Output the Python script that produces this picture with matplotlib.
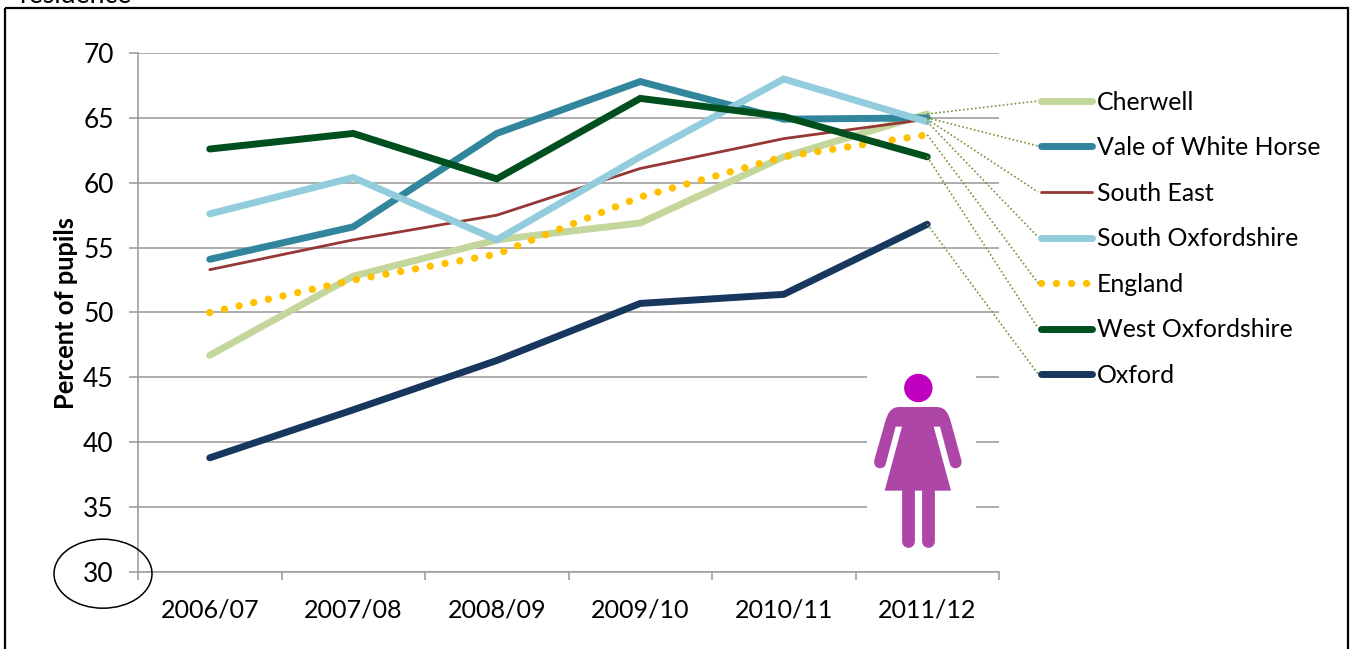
import matplotlib
matplotlib.use("Agg")
import matplotlib.pyplot as plt
from matplotlib.patches import Ellipse, Circle, PathPatch, Rectangle
from matplotlib.path import Path

plt.rcParams['font.family'] = ['Lato', 'DejaVu Sans']

years = ['2006/07', '2007/08', '2008/09', '2009/10', '2010/11', '2011/12']
yticks = [30, 35, 40, 45, 50, 55, 60, 65, 70]
names = ['Cherwell', 'Vale of White Horse', 'South East', 'South Oxfordshire',
         'England', 'West Oxfordshire', 'Oxford']
cherwell = [46.7, 52.8, 55.6, 56.9, 62.0, 65.3]
vale = [54.1, 56.6, 63.8, 67.8, 64.9, 65.0]
south_east = [53.3, 55.6, 57.5, 61.1, 63.4, 64.9]
south_ox = [57.6, 60.4, 55.6, 62.0, 68.0, 64.7]
england = [50.0, 52.5, 54.5, 58.9, 62.0, 63.7]
west_ox = [62.6, 63.8, 60.3, 66.5, 65.1, 62.0]
oxford = [38.8, 42.5, 46.3, 50.7, 51.4, 56.8]
series = [cherwell, vale, south_east, south_ox, england, west_ox, oxford]
colors = ['#C3D69B', '#31859C', '#953735', '#93CDDD', '#FFC000', '#00501F', '#17375E']
widths = [5.0, 5.0, 2.0, 5.0, 5.3, 5.0, 5.0]

W, H = 1352, 649
fig = plt.figure(figsize=(W / 100, H / 100), dpi=100)
GRID = '#A0A0A0'
ax = fig.add_axes([138 / W, 1 - 572 / H, (999 - 138) / W, (572 - 53) / H])
ax.set_xlim(-0.5, 5.5)
ax.set_ylim(30, 70)
for s in ['top', 'right']:
    ax.spines[s].set_visible(False)
for s in ['left', 'bottom']:
    ax.spines[s].set_color(GRID)
    ax.spines[s].set_linewidth(1.2)
ax.set_yticks(yticks)
ax.set_xticks(range(6))
ax.set_xticklabels(years)
ax.set_xticks([i - 0.5 for i in range(7)], minor=True)
ax.tick_params(axis='x', which='major', length=0, pad=19, labelsize=18.1)
ax.tick_params(axis='x', which='minor', length=6, width=1.2, color=GRID)
ax.tick_params(axis='y', length=6.5, width=1.2, color=GRID, pad=11, labelsize=19)
ax.grid(axis='y', color=GRID, linewidth=1.2)
ax.set_axisbelow(True)
ax.set_ylabel('Percent of pupils', fontsize=18.4, fontweight='bold', labelpad=4, y=0.499)

lines = []
for name, vals, c, lw in zip(names, series, colors, widths):
    if name == 'England':
        ln, = ax.plot(range(6), vals, color=c, lw=lw, label=name,
                      linestyle=(0, (0.001, 2.04)), dash_capstyle='round')
    else:
        ln, = ax.plot(range(6), vals, color=c, lw=lw, label=name,
                      solid_capstyle='round', solid_joinstyle='miter')
    lines.append(ln)

leg = ax.legend(handles=lines, loc='upper left', bbox_to_anchor=(1041 / W, 1 - 90.5 / H),
                bbox_transform=fig.transFigure, frameon=False, fontsize=17.9,
                handlelength=2.05, handletextpad=0.2, labelspacing=0.908,
                borderaxespad=0, borderpad=0)

# Overlay in image pixel coordinates for annotations
ov = fig.add_axes([0, 0, 1, 1], zorder=5)
ov.set_xlim(0, W)
ov.set_ylim(H, 0)
ov.axis('off')
ov.patch.set_alpha(0)

ov.add_patch(Rectangle((5, 8), 1343, 660, fill=False, ec='black', lw=1.6))
ov.text(19, 3, 'residence', fontsize=19.2, va='baseline', ha='left', clip_on=False)
ov.add_patch(Ellipse((103, 573.7), 98, 69, fill=False, ec='black', lw=1.1))

# Dotted leader lines
legend_y = [101, 146, 192, 237, 283, 328, 374]
for vals, ly in zip(series, legend_y):
    px = ax.transData.transform((5, vals[5]))
    ov.plot([px[0], 1038], [H - px[1], ly], color='#77933C', lw=1.2,
            linestyle=(0, (1, 1.4)))

# Female icon
ov.add_patch(Rectangle((867, 370), 109, 185, fc='white', ec='none', zorder=1))
BODY = '#AE46A8'
z = lambda x, y: (840 + x / 3, 360 + y / 3)
ov.add_patch(Circle(z(235, 84), 14.2, fc='#C000C0', ec='none', zorder=2))
M, L, C = Path.MOVETO, Path.LINETO, Path.CURVE4
outline = [
    ((178, 141), M), ((290, 141), L),
    ((318, 141), C), ((326, 165), C), ((331, 180), C),
    ((364, 300), L),
    ((370, 328), C), ((335, 332), C), ((330, 313), C),
    ((300, 200), L), ((281, 200), L), ((333, 392), L), ((134, 392), L),
    ((186, 200), L), ((167, 200), L), ((137, 313), L),
    ((132, 332), C), ((97, 328), C), ((103, 300), C),
    ((137, 180), L),
    ((142, 165), C), ((150, 141), C), ((178, 141), C),
]
ov.add_patch(PathPatch(Path([z(*p) for p, _ in outline], [c for _, c in outline]),
                       fc=BODY, ec='none', zorder=2))
for a, b, w in [((204, 392), (204, 543), 9.2), ((263, 392), (263, 543), 9.2)]:
    pa, pb = z(*a), z(*b)
    ov.plot([pa[0], pb[0]], [pa[1], pb[1]], color=BODY, lw=w,
            solid_capstyle='round', zorder=2)

fig.savefig('out.png', dpi=100)
